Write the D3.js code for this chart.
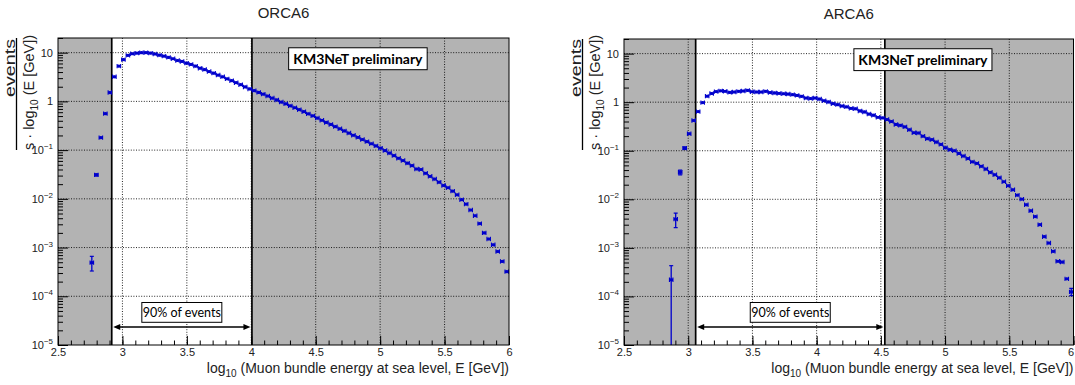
<!DOCTYPE html>
<html><head><meta charset="utf-8">
<script src="https://cdn.jsdelivr.net/npm/d3@7"></script>
<style>body{margin:0;background:#fff}svg{display:block}</style>
</head><body><svg id="c" width="1075" height="385"></svg>
<script>
// ---------------- data ----------------
const xDomain = [2.5, 6];
const nBins = 100;
const yDomain = [1e-5, 20];
const xMajorTicks = [2.5, 3, 3.5, 4, 4.5, 5, 5.5, 6];
const yDecades = [-5, -4, -3, -2, -1, 0, 1];
const titles = ["ORCA6", "ARCA6"];

const orcaFirstBin = 7;
const orcaValues = [
  4.9e-4, 0.031, 0.18, 0.56, 1.52, 3.2, 5.3, 7.2, 8.8, 9.5,
  9.8, 10.0, 10.0, 9.8, 9.4, 8.9, 8.5, 8.0, 7.5, 6.9,
  6.6, 6.1, 5.75, 5.3, 4.8, 4.5, 4.1, 3.8, 3.47, 3.2,
  2.9, 2.66, 2.42, 2.2, 1.98, 1.8, 1.66, 1.53, 1.41, 1.29,
  1.17, 1.07, 0.97, 0.89, 0.81, 0.74, 0.675, 0.615, 0.555, 0.505,
  0.455, 0.41, 0.37, 0.336, 0.303, 0.274, 0.248, 0.224, 0.202, 0.183,
  0.165, 0.149, 0.135, 0.122, 0.110, 0.098, 0.087, 0.077, 0.068, 0.061,
  0.054, 0.048, 0.041, 0.040, 0.0335, 0.029, 0.0255, 0.022, 0.0188, 0.0169,
  0.0144, 0.0121, 0.0096, 0.0078, 0.0059, 0.0045, 0.0031, 0.0020, 0.0015, 0.00114,
  0.00083, 0.00052, 0.00032
];
// [bin, low, high] for the error bars that are visible
const orcaErrBars = [[7, 3.3e-4, 6.6e-4], [8, 0.0295, 0.0325]];

const arcaFirstBin = 10;
const arcaValues = [
  2.2e-4, 3.9e-3, 0.036, 0.113, 0.224, 0.42, 0.64, 0.98, 1.33, 1.51,
  1.65, 1.71, 1.68, 1.59, 1.62, 1.67, 1.70, 1.75, 1.64, 1.62,
  1.62, 1.67, 1.58, 1.55, 1.52, 1.49, 1.47, 1.43, 1.38, 1.32,
  1.22, 1.19, 1.22, 1.16, 1.07, 1.01, 0.93, 0.89, 0.835, 0.80,
  0.746, 0.73, 0.66, 0.63, 0.57, 0.54, 0.49, 0.475, 0.44, 0.40,
  0.348, 0.333, 0.31, 0.27, 0.235, 0.232, 0.20, 0.177, 0.169, 0.151,
  0.135, 0.115, 0.105, 0.100, 0.088, 0.078, 0.069, 0.059, 0.055, 0.048,
  0.042, 0.036, 0.032, 0.0277, 0.023, 0.019, 0.0157, 0.0122, 0.0101, 0.0077,
  0.0058, 0.0044, 0.0030, 0.0017, 0.00126, 0.00085, 0.00053, 0.00051, 0.00023, 0.000124
];
const arcaErrBars = [[10, 1e-8, 4.3e-4], [11, 2.6e-3, 5.2e-3], [12, 0.032, 0.040], [13, 0.106, 0.120], [99, 1.04e-4, 1.46e-4]];

const orca90 = [2.917, 4.005];
const arca90 = [3.058, 4.531];
const labelText90 = "90% of events";
const prelimText = "KM3NeT preliminary";
const prelimBoxX = [4.29, 5.365];
const prelimBoxY = [4.47, 12.6];

// ---------------- drawing ----------------
const svg = d3.select("#c");
const FONT = "'Liberation Sans', Arial, Helvetica, sans-serif";
const BOXFONT = "Lato, 'Open Sans', sans-serif";
const BLUE = "#0000cc";
const GRAY = "#b3b3b3";
const W = 1075;

const panels = [
  {title: titles[0], first: orcaFirstBin, values: orcaValues, err: orcaErrBars, r90: orca90, L: 58, T: 38, R: 509, B: 345},
  {title: titles[1], first: arcaFirstBin, values: arcaValues, err: arcaErrBars, r90: arca90, L: 624, T: 39, R: 1073.5, B: 345}
];

const bw = (xDomain[1] - xDomain[0]) / nBins;
const xMinorTicks = d3.range(25, 61).map(d => d / 10);

panels.forEach((p, idx) => {
  const {L, T, R, B} = p;
  const x = d3.scaleLinear().domain(xDomain).range([L, R]);
  const y = d3.scaleLog().domain(yDomain).range([B, T]);
  const g = svg.append("g");
  const cid = "clip" + idx;
  svg.append("clipPath").attr("id", cid).append("rect")
    .attr("x", L).attr("y", T).attr("width", R - L).attr("height", B - T);

  // background shading
  g.append("rect").attr("x", L).attr("y", T).attr("width", R - L).attr("height", B - T).attr("fill", "#fff");
  g.append("rect").attr("x", L).attr("y", T).attr("width", x(p.r90[0]) - L).attr("height", B - T).attr("fill", GRAY);
  g.append("rect").attr("x", x(p.r90[1])).attr("y", T).attr("width", R - x(p.r90[1])).attr("height", B - T).attr("fill", GRAY);

  // grid
  const grid = g.append("g").attr("stroke", "#000").attr("stroke-width", 1).attr("stroke-dasharray", "1,1.6").attr("opacity", 0.85);
  xMajorTicks.filter(t => t > xDomain[0] && t < xDomain[1]).forEach(t => {
    grid.append("line").attr("x1", x(t)).attr("x2", x(t)).attr("y1", T).attr("y2", B);
  });
  yDecades.filter(d => d > -5).forEach(d => {
    grid.append("line").attr("x1", L).attr("x2", R).attr("y1", y(Math.pow(10, d))).attr("y2", y(Math.pow(10, d)));
  });

  // 90% boundaries
  p.r90.forEach(v => {
    g.append("line").attr("x1", x(v)).attr("x2", x(v)).attr("y1", T).attr("y2", B)
      .attr("stroke", "#000").attr("stroke-width", 1.7);
  });

  // axes (ticks inward)
  const xa = g.append("g").attr("transform", `translate(0,${B})`)
    .call(d3.axisBottom(x).tickValues(xMajorTicks).tickSize(-9).tickSizeOuter(0).tickPadding(3)
      .tickFormat(d3.format("~g")));
  xa.select(".domain").remove();
  xa.selectAll("text").attr("font-family", FONT).attr("font-size", 11).attr("fill", "#222")
    .attr("text-anchor", d => (x(d) + 4 > W ? "end" : "middle"));
  const xm = g.append("g").attr("transform", `translate(0,${B})`)
    .call(d3.axisBottom(x).tickValues(xMinorTicks).tickSize(-4.5).tickSizeOuter(0).tickFormat(""));
  xm.select(".domain").remove();

  const yMinor = [];
  yDecades.forEach(d => { for (let m = 2; m <= 9; m++) { const v = m * Math.pow(10, d); if (v <= yDomain[1]) yMinor.push(v); } });
  const ya = g.append("g").attr("transform", `translate(${L},0)`)
    .call(d3.axisLeft(y).tickValues(yDecades.map(d => Math.pow(10, d))).tickSize(-10).tickSizeOuter(0).tickFormat(""));
  ya.select(".domain").remove();
  const ym = g.append("g").attr("transform", `translate(${L},0)`)
    .call(d3.axisLeft(y).tickValues(yMinor).tickSize(-5).tickSizeOuter(0).tickFormat(""));
  ym.select(".domain").remove();

  // y tick labels
  yDecades.forEach(d => {
    const t = g.append("text").attr("x", L - 5).attr("y", y(Math.pow(10, d)) + 4)
      .attr("text-anchor", "end").attr("font-family", FONT).attr("font-size", 11).attr("fill", "#222");
    if (d === 0) t.text("1");
    else if (d === 1) t.text("10");
    else {
      t.append("tspan").text("10");
      t.append("tspan").attr("dy", -5).attr("font-size", 8).text("\u2212" + Math.abs(d));
    }
  });

  // data
  const dg = g.append("g").attr("clip-path", `url(#${cid})`).attr("stroke", BLUE).attr("fill", BLUE);
  const bins = p.values.map((v, k) => {
    const i = p.first + k;
    const lo = xDomain[0] + bw * i;
    return {v, lo, hi: lo + bw, c: lo + bw / 2};
  });
  dg.selectAll("line.h").data(bins).join("line").attr("class", "h")
    .attr("x1", d => x(d.lo) + 0.4).attr("x2", d => x(d.hi) - 0.4)
    .attr("y1", d => y(d.v)).attr("y2", d => y(d.v)).attr("stroke-width", 2.4);
  dg.selectAll("line.cl").data(bins).join("line").attr("class", "cl")
    .attr("x1", d => x(d.lo) + 0.5).attr("x2", d => x(d.lo) + 0.5)
    .attr("y1", d => y(d.v) - 2.2).attr("y2", d => y(d.v) + 2.2).attr("stroke-width", 1.1);
  dg.selectAll("line.cr").data(bins).join("line").attr("class", "cr")
    .attr("x1", d => x(d.hi) - 0.5).attr("x2", d => x(d.hi) - 0.5)
    .attr("y1", d => y(d.v) - 2.2).attr("y2", d => y(d.v) + 2.2).attr("stroke-width", 1.1);
  dg.selectAll("circle").data(bins).join("circle")
    .attr("cx", d => x(d.c)).attr("cy", d => y(d.v)).attr("r", 1.6).attr("stroke", "none");
  const errs = p.err.map(([i, lo, hi]) => ({c: xDomain[0] + bw * (i + 0.5), lo, hi}));
  dg.selectAll("line.ev").data(errs).join("line").attr("class", "ev")
    .attr("x1", d => x(d.c)).attr("x2", d => x(d.c)).attr("y1", d => y(d.lo)).attr("y2", d => y(d.hi)).attr("stroke-width", 1.3);
  dg.selectAll("line.et").data(errs).join("line").attr("class", "et")
    .attr("x1", d => x(d.c) - 2).attr("x2", d => x(d.c) + 2).attr("y1", d => y(d.hi)).attr("y2", d => y(d.hi)).attr("stroke-width", 1.2);
  dg.selectAll("line.eb").data(errs).join("line").attr("class", "eb")
    .attr("x1", d => x(d.c) - 2).attr("x2", d => x(d.c) + 2).attr("y1", d => y(d.lo)).attr("y2", d => y(d.lo)).attr("stroke-width", 1.2);

  // 90% arrow and label
  const x0 = x(p.r90[0]), x1 = x(p.r90[1]);
  const ay = B - 18;
  g.append("line").attr("x1", x0 + 6).attr("x2", x1 - 6).attr("y1", ay).attr("y2", ay).attr("stroke", "#000").attr("stroke-width", 1.7);
  g.append("path").attr("d", `M${x0 + 1.5},${ay} L${x0 + 8.5},${ay - 3} L${x0 + 8.5},${ay + 3} Z`).attr("fill", "#000");
  g.append("path").attr("d", `M${x1 - 1.5},${ay} L${x1 - 8.5},${ay - 3} L${x1 - 8.5},${ay + 3} Z`).attr("fill", "#000");
  const cx = (x0 + x1) / 2;
  g.append("rect").attr("x", cx - 40).attr("y", B - 42.5).attr("width", 80).attr("height", 19.8)
    .attr("fill", "#fff").attr("stroke", "#000").attr("stroke-width", 1);
  g.append("text").attr("x", cx).attr("y", B - 28.3).attr("text-anchor", "middle")
    .attr("font-family", BOXFONT).attr("font-size", 12.5).attr("fill", "#000").text(labelText90);

  // preliminary box
  const bx0 = x(prelimBoxX[0]), bx1 = x(prelimBoxX[1]);
  const by0 = y(prelimBoxY[1]), by1 = y(prelimBoxY[0]);
  g.append("rect").attr("x", bx0).attr("y", by0).attr("width", bx1 - bx0).attr("height", by1 - by0)
    .attr("fill", "#fff").attr("stroke", "#000").attr("stroke-width", 1);
  g.append("text").attr("x", (bx0 + bx1) / 2).attr("y", (by0 + by1) / 2 + 5).attr("text-anchor", "middle")
    .attr("font-family", BOXFONT).attr("font-weight", "bold").attr("font-size", 14).attr("fill", "#000").text(prelimText);

  // frame
  g.append("rect").attr("x", L).attr("y", T).attr("width", R - L).attr("height", B - T)
    .attr("fill", "none").attr("stroke", "#000").attr("stroke-width", 1);

  // title
  svg.append("text").attr("x", (L + R) / 2).attr("y", T - 20.5).attr("text-anchor", "middle")
    .attr("font-family", FONT).attr("font-size", 15).attr("fill", "#222").text(p.title);

  // x title
  const xt = svg.append("text").attr("x", R).attr("y", B + 27.5).attr("text-anchor", "end")
    .attr("font-family", FONT).attr("font-size", 14).attr("fill", "#222");
  xt.append("tspan").text("log");
  xt.append("tspan").attr("dy", 4).attr("font-size", 10).text("10");
  xt.append("tspan").attr("dy", -4).text(" (Muon bundle energy at sea level, E [GeV])");

  // y title (fraction)
  const fx = L - 41.5;
  svg.append("line").attr("x1", fx).attr("x2", fx).attr("y1", T).attr("y2", 150).attr("stroke", "#000").attr("stroke-width", 1.3);
  svg.append("text").attr("transform", `translate(${L - 43},97) rotate(-90)`)
    .attr("font-family", FONT).attr("font-size", 14.5).attr("fill", "#222")
    .attr("textLength", 58).attr("lengthAdjust", "spacingAndGlyphs").text("events");
  const dt = svg.append("text").attr("transform", `translate(${L - 24.5},150) rotate(-90)`)
    .attr("font-family", FONT).attr("font-size", 14.5).attr("fill", "#222");
  dt.append("tspan").text("s \u00b7 log");
  dt.append("tspan").attr("dy", 4).attr("font-size", 10).text("10");
  dt.append("tspan").attr("dy", -4).text(" (E [GeV])");
});
</script>
</body></html>
